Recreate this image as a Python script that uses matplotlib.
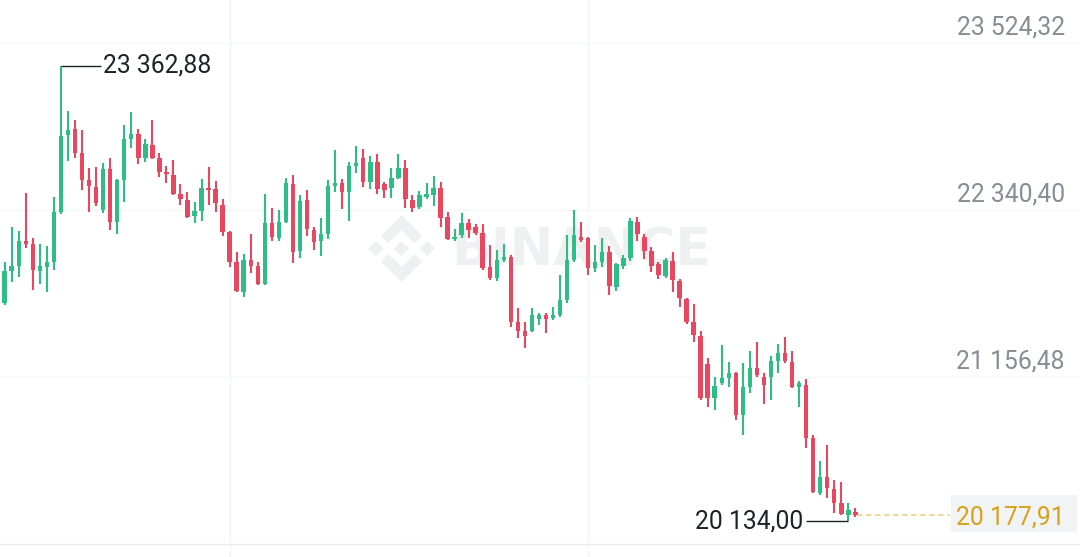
import matplotlib
matplotlib.use('Agg')
import matplotlib.pyplot as plt
import matplotlib.transforms as mtransforms
from matplotlib.patches import Polygon, FancyBboxPatch

# OHLC candles
opens = [21681, 21908, 21943, 22121, 22099, 21908, 21936, 21972, 22326, 22872,
         22914, 22744, 22553, 22503, 22340, 22631, 22255, 22553, 22843, 22879,
         22709, 22801, 22709, 22610, 22588, 22454, 22411, 22298, 22333, 22496,
         22489, 22376, 22184, 21972, 21759, 21986, 21943, 21816, 22248, 22142,
         22255, 22525, 22050, 22411, 22198, 22121, 22170, 22510, 22532, 22468,
         22652, 22709, 22539, 22681, 22525, 22496, 22567, 22638, 22411, 22362,
         22433, 22447, 22496, 22291, 22135, 22163, 22248, 22220, 22177, 21936,
         21858, 21986, 22007, 21546, 21483, 21483, 21567, 21596, 21575, 21596,
         21702, 21986, 22149, 22142, 21929, 21972, 22043, 21794, 21943, 22000,
         22255, 22149, 22050, 21958, 21872, 21979, 21837, 21709, 21546, 21447,
         21248, 21007, 21114, 21149, 21185, 20887, 21086, 21220, 21156, 21156,
         21270, 21327, 21263, 21086, 21100, 20724, 20334, 20447, 20362, 20263,
         20178, 20200]
highs = [21972, 22220, 22191, 22461, 22142, 22099, 22085, 22432, 23362.88, 23042,
         22978, 22907, 22638, 22645, 22673, 22709, 22560, 22943, 23035, 22914,
         22843, 22978, 22744, 22652, 22695, 22525, 22468, 22397, 22560, 22645,
         22546, 22418, 22191, 22043, 22028, 22170, 21972, 22454, 22354, 22340,
         22567, 22588, 22447, 22482, 22220, 22284, 22553, 22766, 22560, 22681,
         22794, 22773, 22723, 22737, 22539, 22638, 22737, 22695, 22447, 22475,
         22532, 22581, 22539, 22326, 22206, 22319, 22277, 22241, 22241, 22092,
         22057, 22099, 22021, 21645, 21546, 21645, 21610, 21610, 21653, 21879,
         22163, 22340, 22255, 22149, 22092, 22142, 22085, 21965, 22021, 22284,
         22291, 22170, 22078, 21972, 22000, 22043, 21851, 21716, 21674, 21483,
         21291, 21156, 21383, 21263, 21192, 21256, 21341, 21405, 21185, 21305,
         21390, 21440, 21341, 21128, 21142, 20745, 20561, 20674, 20426, 20412,
         20263, 20228]
lows = [21667, 21830, 21865, 22071, 21773, 21816, 21759, 21915, 22315, 22688,
        22709, 22482, 22326, 22368, 22319, 22198, 22170, 22397, 22780, 22666,
        22680, 22702, 22574, 22532, 22447, 22376, 22284, 22248, 22262, 22376,
        22326, 22156, 21936, 21759, 21724, 21894, 21809, 21809, 22121, 22121,
        22250, 21965, 22000, 22156, 22057, 22014, 22135, 22468, 22347, 22262,
        22603, 22503, 22489, 22454, 22425, 22425, 22560, 22354, 22326, 22347,
        22418, 22369, 22220, 22128, 22121, 22142, 22142, 22163, 21915, 21844,
        21837, 21972, 21511, 21433, 21362, 21475, 21525, 21468, 21560, 21582,
        21681, 21972, 22113, 21879, 21901, 21936, 21738, 21766, 21922, 21979,
        22121, 21993, 21901, 21851, 21858, 21759, 21653, 21532, 21404, 20993,
        20944, 20922, 21100, 21086, 20852, 20745, 21043, 21156, 20965, 20993,
        21185, 21256, 21080, 20944, 20653, 20334, 20320, 20298, 20192, 20178,
        20134.00, 20164]
closes = [21908, 21943, 22121, 22099, 21915, 21943, 21972, 22326, 22865, 22907,
          22744, 22553, 22510, 22390, 22631, 22255, 22553, 22843, 22879, 22709,
          22808, 22709, 22610, 22595, 22454, 22418, 22291, 22333, 22496, 22482,
          22390, 22184, 21972, 21766, 21986, 21943, 21816, 22248, 22149, 22255,
          22532, 22043, 22404, 22206, 22113, 22170, 22510, 22532, 22468, 22652,
          22674, 22539, 22681, 22489, 22482, 22567, 22638, 22418, 22354, 22447,
          22454, 22496, 22284, 22135, 22149, 22248, 22198, 22177, 21929, 21858,
          21986, 22007, 21546, 21483, 21447, 21596, 21596, 21567, 21596, 21702,
          21986, 22163, 22128, 21929, 21972, 22043, 21802, 21958, 22000, 22262,
          22170, 22050, 21943, 21879, 21986, 21844, 21716, 21546, 21454, 21007,
          21007, 21093, 21149, 21185, 20887, 21086, 21220, 21171, 21100, 21270,
          21327, 21270, 21086, 21114, 20724, 20341, 20447, 20369, 20263, 20185,
          20214, 20177.91]

grid_prices = [23524.32, 22340.40, 21156.48, 19972.56]
label_prices = [23524.32, 22340.40, 21156.48]

GREEN = '#2ebd85'
RED = '#e8475f'
W, H = 1080, 557


def fmt(v):
  # 23524.32 -> '23 524,32'
  return '{:,.2f}'.format(v).replace(',', ' ').replace('.', ',')


def px(x):
  # pixel column -> candle index units
  return (x - 4.7) / 7.03


fig = plt.figure(figsize=(W / 100, H / 100), dpi=100)
ax = fig.add_axes([0, 0, 1, 1])
ax.set_xlim(px(0), px(W))
ax.set_ylim(19880.4, 23829.2)
ax.axis('off')

# grid
for i, g in enumerate(grid_prices):
  c = '#e8e9eb' if i == len(grid_prices) - 1 else '#f4f5f6'
  ax.axhline(g, color=c, lw=1.0, zorder=0)
for xv in [230, 588]:
  ax.axvline(px(xv), color='#f4f5f6', lw=1.0, zorder=0)

# watermark
logo = [
  [(38.73, 53.2), (63.3, 28.63), (87.88, 53.21), (102.17, 38.92), (63.3, 0), (24.43, 38.87)],
  [(0, 63.31), (14.3, 49.01), (28.59, 63.3), (14.29, 77.6)],
  [(38.73, 73.41), (63.3, 97.99), (87.88, 73.4), (102.17, 87.7), (63.3, 126.61), (24.43, 87.74)],
  [(98.02, 63.31), (112.32, 49.01), (126.61, 63.3), (112.31, 77.6)],
  [(77.79, 63.3), (63.3, 48.8), (48.8, 63.3), (63.3, 77.8)],
]
for shape in logo:
  pts = [((368 + u * 0.53) / W, 1 - (215 + v * 0.53) / H) for u, v in shape]
  ax.add_patch(Polygon(pts, closed=True, transform=ax.transAxes,
                       facecolor='#eef0f2', edgecolor='none', zorder=0.5))
ax.text(451 / W, 1 - 251 / H, 'BINANCE', transform=ax.transAxes, fontsize=37.5,
        fontweight='bold', color='#eef0f2', ha='left', va='center', zorder=0.5)

# candles
for i in range(len(opens)):
  o, h, l, c = opens[i], highs[i], lows[i], closes[i]
  col = GREEN if c >= o else RED
  ax.vlines(i, l, h, color=col, lw=1.5, zorder=2)
  bot = min(o, c)
  hgt = max(abs(c - o), 9)
  ax.bar(i, hgt, bottom=bot, width=0.64, color=col, zorder=3)

# price labels on the right
trans = mtransforms.blended_transform_factory(ax.transAxes, ax.transData)
lab_trans = mtransforms.offset_copy(trans, fig=fig, y=16, units='dots')
for p in label_prices:
  ax.text(1065 / W, p, fmt(p), transform=lab_trans, ha='right', va='center',
          fontsize=17.8, family='Roboto', color='#878d95')

# last price
last = closes[-1]
ax.hlines(last, len(closes) - 1 + 0.3, px(950), color='#f0d68a', lw=1.3,
          linestyles=(0, (3, 2)), zorder=1)
ax.add_patch(FancyBboxPatch((951 / W, last - 17 * 7.089), 126 / W, 37 * 7.089,
                            boxstyle='round,pad=0,rounding_size=0.004',
                            transform=trans, facecolor='#f2f3f4',
                            edgecolor='none', zorder=1))
last_trans = mtransforms.offset_copy(trans, fig=fig, y=-2, units='dots')
ax.text(1065 / W, last, fmt(last), transform=last_trans, ha='right', va='center',
        fontsize=17.8, family='Roboto', color='#d6a21c', zorder=4)

# highest / lowest markers
hi_idx = highs.index(max(highs))
lo_idx = lows.index(min(lows))
ax.hlines(max(highs), hi_idx, px(101), color='#1e2329', lw=1.0, zorder=4)
ax.text(px(103), max(highs), fmt(max(highs)), ha='left', va='center',
        fontsize=17.8, family='Roboto', color='#1e2329', zorder=4)
ax.hlines(min(lows), px(806), lo_idx, color='#1e2329', lw=1.0, zorder=4)
ax.text(px(803), min(lows), fmt(min(lows)), ha='right', va='center',
        fontsize=17.8, family='Roboto', color='#1e2329', zorder=4)

fig.savefig('out.png', dpi=100)
